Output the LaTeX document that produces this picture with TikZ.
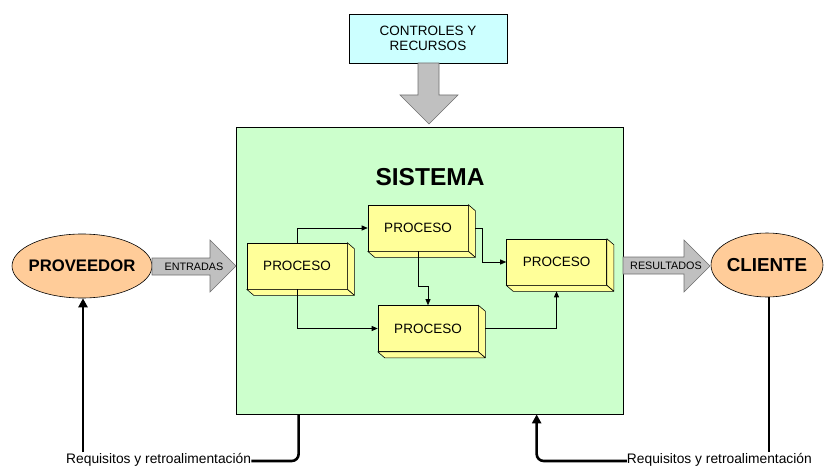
\documentclass[tikz,border=0pt]{standalone}
\usepackage{fontspec}
\setmainfont{Liberation Sans}
\usetikzlibrary{calc,arrows.meta,shapes.geometric}
\definecolor{ctrlfill}{HTML}{CCFFFF}
\definecolor{sysfill}{HTML}{CCFFCC}
\definecolor{procfill}{HTML}{FFFF99}
\definecolor{actorfill}{HTML}{FFCC99}
\definecolor{blockfill}{HTML}{C0C0C0}
\definecolor{blockline}{HTML}{707070}
\begin{document}
\begin{tikzpicture}[x=1pt,y=-1pt,
  every node/.style={inner sep=0pt, text=black},
  procbox/.style={draw, line width=0.6pt, fill=procfill, minimum width=100pt, minimum height=46pt,
    font=\fontsize{13.5}{16}\selectfont},
  actor/.style={ellipse, draw, line width=0.6pt, fill=actorfill, minimum height=64pt},
  block/.style={draw=blockline, line width=0.6pt, fill=blockfill},
  link/.style={line width=0.7pt, -{Triangle[length=6pt,width=5pt]}},
  feedback/.style={line width=2.6pt},
  feedtip/.style={-{Triangle[length=9pt,width=9pt]}},
  small/.style={font=\fontsize{10.8}{13}\selectfont},
  label/.style={font=\fontsize{13.8}{16}\selectfont}]
\useasboundingbox (0,0) rectangle (824,468);

% control / resources box and its block arrow
\node[draw, line width=0.6pt, fill=ctrlfill, minimum width=158pt, minimum height=49pt,
      align=center, font=\fontsize{13.5}{15.5}\selectfont] (ctrl) at (428,38.5)
      {CONTROLES Y\\RECURSOS};
\filldraw[block] (418,63) -- (439,63) -- (439,95) -- (458,95) -- (429,124)
  -- (400,95) -- (418,95) -- cycle;

% system frame
\node[draw, line width=0.7pt, fill=sysfill, minimum width=387pt, minimum height=287pt]
  (sys) at (429.5,270.5) {};
\node[font=\bfseries\fontsize{24.5}{28}\selectfont] (title) at (430,177) {SISTEMA};

% supplier and client (ellipse outline, name set on top)
\node[actor, minimum width=140pt] (prov) at (82,266) {};
\node[font=\bfseries\fontsize{16.7}{20}\selectfont] (provname) at (prov) {PROVEEDOR};
\node[actor, minimum width=112pt] (cli) at (767,265) {};
\node[font=\bfseries\fontsize{18.8}{22}\selectfont] (cliname) at (cli) {CLIENTE};

% input and output block arrows
\filldraw[block] (152,258) -- (210,258) -- (210,240) -- (236,266) -- (210,292)
  -- (210,275) -- (152,275) -- cycle;
\node[small] (inlbl) at (194,266.5) {ENTRADAS};
\filldraw[block] (623,257) -- (684,257) -- (684,240) -- (710,266) -- (684,292)
  -- (684,274) -- (623,274) -- cycle;
\node[small] (outlbl) at (666,265.5) {RESULTADOS};

% process boxes
\node[procbox] (p1) at (297,266)   {PROCESO};
\node[procbox] (p2) at (418,228)   {PROCESO};
\node[procbox] (p3) at (428,328.5) {PROCESO};
\node[procbox] (p4) at (556.5,262) {PROCESO};
\foreach \n in {p1,p2,p3,p4}{
  \filldraw[fill=procfill, line width=0.6pt, line join=round]
    (\n.north east) -- ++(7,6) -- ($(\n.south east)+(7,6)$) -- (\n.south east) -- cycle;
  \filldraw[fill=procfill, line width=0.6pt, line join=round]
    (\n.south west) -- ++(7,6) -- ($(\n.south east)+(7,6)$) -- (\n.south east) -- cycle;
}

% flows between processes
\draw[link] (p1.north) |- (p2.west);
\draw[link] (p1.south) |- (p3.west);
\draw[link] (p2.south) -- ++(0,35) -| (p3.north);
\draw[link] ($(p2.east)+(7,0)$) -- ++(7,0) |- (p4.west);
\draw[link] ($(p3.east)+(7,0)$) -| ($(p4.south)+(0,6)$);

% requirements and feedback
\node[label, anchor=west] (fb1) at (66,460) {Requisitos y retroalimentación};
\node[label, anchor=east] (fb2) at (812,460) {Requisitos y retroalimentación};
\draw[feedback, feedtip] (prov.south |- fb1.north) ++(1,-1) -- ($(prov.south)+(1,0)$);
\draw[feedback, rounded corners=7pt] (fb1.east) ++(0,1) -| ($(sys.south west)+(63,0)$);
\draw[feedback] ($(cli.south)+(2,0)$) -- ($(cli.south |- fb2.north)+(2,-1)$);
\draw[feedback, feedtip, rounded corners=7pt] (fb2.west) ++(0,1) -| ($(sys.south west)+(301,0)$);
\end{tikzpicture}
\end{document}
